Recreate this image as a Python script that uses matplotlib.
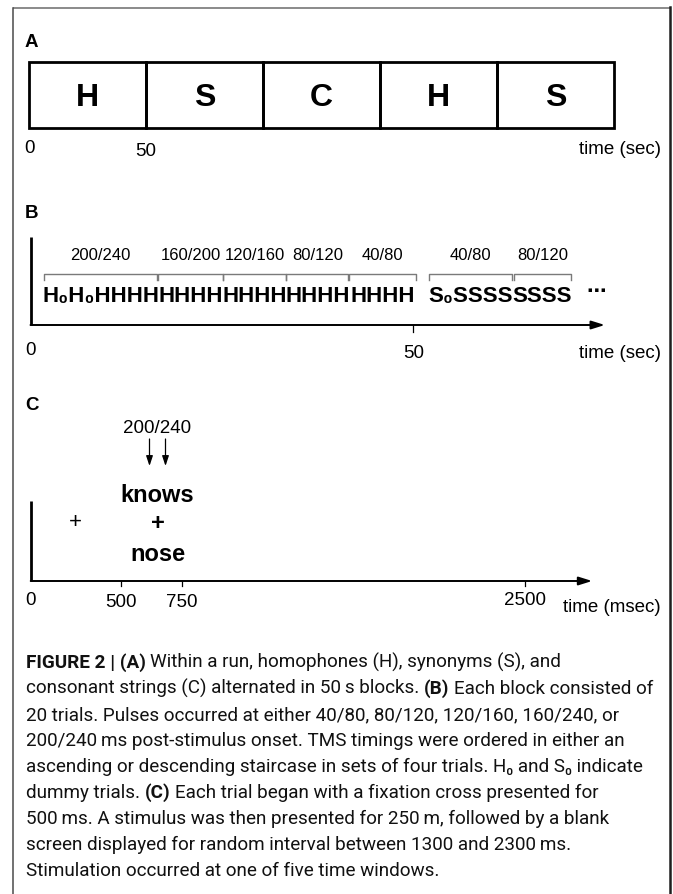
import numpy as np
import matplotlib
matplotlib.use('Agg')
import matplotlib.pyplot as plt
import matplotlib.transforms as mtransforms
from matplotlib.patches import Rectangle
from matplotlib import font_manager as fm

W, H = 673, 895

# ---------------- data ----------------
# Panel A: block sequence within a run (50 s blocks)
block_labels = ['H', 'S', 'C', 'H', 'S']
block_len_s = 50
a_ticks = [0, 50]
a_tick_labels = ['0', '50']

# Panel B: trials within blocks, grouped in sets with TMS timing labels
b_timing_labels_H = ['200/240', '160/200', '120/160', '80/120', '40/80']
b_groups_H = ['H\u2080H\u2080HHHH', 'HHHH', 'HHHH', 'HHHH', 'HHHH']
b_spans_H = [(1.8, 16.5), (16.7, 25.1), (25.2, 33.3), (33.4, 41.5), (41.6, 50.3)]
b_timing_labels_S = ['40/80', '80/120']
b_groups_S = ['S\u2080SSSS', 'SSSS']
b_spans_S = [(52.1, 62.9), (63.1, 70.6)]
b_ticks = [0, 50]
b_tick_labels = ['0', '50']
b_axis_end_s = 75

# Panel C: single trial timeline (msec)
c_ticks = [0, 500, 750, 2500]
c_tick_labels = ['0', '500', '750', '2500']
fixation_ms = (0, 500)
stimulus_ms = (500, 750)
pulse_label = '200/240'
stim_words = ['knows', '+', 'nose']
c_axis_end_ms = 2840

caption_lines = [
    [('FIGURE 2 | (A)', True), ('Within a run, homophones (H), synonyms (S), and', False)],
    [('consonant strings (C) alternated in 50\u2009s blocks.', False), ('(B)', True),
     ('Each block consisted of', False)],
    [('20 trials. Pulses occurred at either 40/80, 80/120, 120/160, 160/240, or', False)],
    [('200/240\u2009ms post-stimulus onset. TMS timings were ordered in either an', False)],
    [('ascending or descending staircase in sets of four trials. H\u2080 and S\u2080 indicate', False)],
    [('dummy trials.', False), ('(C)', True), ('Each trial began with a fixation cross presented for', False)],
    [('500\u2009ms. A stimulus was then presented for 250\u2009m, followed by a blank', False)],
    [('screen displayed for random interval between 1300 and 2300\u2009ms.', False)],
    [('Stimulation occurred at one of five time windows.', False)],
]

# ---------------- setup ----------------
names = {f.name for f in fm.fontManager.ttflist}
SANS = ['Liberation Sans', 'DejaVu Sans']
if 'Liberation Sans Narrow' in names:
    CAPF = ['Liberation Sans Narrow'] + SANS
elif 'Roboto' in names:
    CAPF = ['Roboto'] + SANS
else:
    CAPF = SANS
plt.rcParams['font.family'] = SANS

fig = plt.figure(figsize=(W / 100, H / 100), dpi=100)
fig.patch.set_facecolor('white')


def layer(x0_px=0.0, px_per_unit=1.0):
    ax = fig.add_axes([0, 0, 1, 1], facecolor='none')
    ax.set_ylim(H, 0)
    ax.set_xlim(-x0_px / px_per_unit, (W - x0_px) / px_per_unit)
    ax.axis('off')
    return ax


ax0 = layer()  # page layer (pixel units)

# outer frame
ax0.plot([13, 669.5], [9, 9], color='#8a8a8a', lw=1.4, solid_capstyle='butt')
ax0.plot([13, 13], [9, H + 5], color='#4a4a4a', lw=1.1)
ax0.plot([670, 670], [8.3, H + 5], color='#1e1e1e', lw=1.8)

# panel letters
for lab, yb in [('A', 47), ('B', 218), ('C', 409.5)]:
    ax0.text(25, yb, lab, fontsize=13.5, fontweight='bold', va='baseline', ha='left')

# ---------------- Panel A ----------------
axA = layer(29.3, (613.7 - 29.3) / 250)
for i, lab in enumerate(block_labels):
    axA.add_patch(Rectangle((i * block_len_s, 63), block_len_s, 66, fill=False,
                            ec='black', lw=2.0, joinstyle='miter'))
    axA.text(i * block_len_s + block_len_s / 2, 106, lab, fontsize=23, fontweight='bold',
             ha='center', va='baseline')
for v, lab, yb in zip(a_ticks, a_tick_labels, [153, 156]):
    axA.text(v, yb, lab, fontsize=13.5, ha='center', va='baseline')
ax0.text(661, 154, 'time (sec)', fontsize=13.5, ha='right', va='baseline')

# ---------------- Panel B ----------------
axB = layer(30.5, (413.4 - 30.5) / 50)
axB.plot([0, 0], [238, 326], color='black', lw=2.0, solid_capstyle='butt')
axB.annotate('', xy=(b_axis_end_s, 326), xytext=(0, 326),
             arrowprops=dict(arrowstyle='-|>,head_length=0.8,head_width=0.25',
                             mutation_scale=10, lw=1.4, color='black',
                             shrinkA=0, shrinkB=0))
axB.plot([50, 50], [326, 333], color='black', lw=0.9)
for v, lab, yb in zip(b_ticks, b_tick_labels, [355, 358]):
    axB.text(v, yb, lab, fontsize=13.5, ha='center', va='baseline')
ax0.text(661, 358, 'time (sec)', fontsize=13.5, ha='right', va='baseline')


def brackets(ax, spans, labels, groups):
    for (a, b), lab, g in zip(spans, labels, groups):
        ax.plot([a, a, b, b], [281, 275, 275, 281], color='#7a7a7a', lw=1.0)
        c = 0.5 * (a + b)
        ax.text(c, 260, lab, fontsize=12, ha='center', va='baseline')
        ax.text(c, 302, g, fontsize=16, fontweight='bold', ha='center', va='baseline',
                family=SANS)


brackets(axB, b_spans_H, b_timing_labels_H, b_groups_H)
brackets(axB, b_spans_S, b_timing_labels_S, b_groups_S)
axB.text(b_spans_S[-1][1] + 3.3, 291, '\u22ef', fontsize=14, fontweight='bold',
         ha='center', va='center', family=['DejaVu Sans'])

# ---------------- Panel C ----------------
anc_ms = np.array([-2000.0, 0, 500, 750, 2500, 6000])
anc_px = np.array([30.7 - 2000 * 0.1806, 30.7, 121.0, 182.0, 525.4, 525.4 + 3500 * 0.1963])


def fwd(x):
    return np.interp(x, anc_ms, anc_px)


def inv(p):
    return np.interp(p, anc_px, anc_ms)


axC = fig.add_axes([0, 0, 1, 1], facecolor='none')
axC.set_xscale('function', functions=(fwd, inv))
axC.set_xlim(inv(0), inv(W))
axC.set_ylim(H, 0)
axC.axis('off')

axC.plot([0, 0], [502, 582], color='black', lw=2.0, solid_capstyle='butt')
axC.annotate('', xy=(c_axis_end_ms, 582), xytext=(0, 582),
             arrowprops=dict(arrowstyle='-|>,head_length=0.8,head_width=0.25',
                             mutation_scale=10, lw=1.4, color='black',
                             shrinkA=0, shrinkB=0))
for v in c_ticks[1:]:
    axC.plot([v, v], [582, 587], color='black', lw=0.9)
for v, lab, yb in zip(c_ticks, c_tick_labels, [605, 607, 607, 605]):
    axC.text(v, yb, lab, fontsize=13.5, ha='center', va='baseline')
ax0.text(661, 612, 'time (msec)', fontsize=13.5, ha='right', va='baseline')

# fixation cross
axC.text(np.mean(fixation_ms), 523, '+', fontsize=16, ha='center', va='center')

# stimulus group (schematic, shifted slightly right of window centre)
stim_c = np.mean(stimulus_ms)
tr = axC.transData + mtransforms.Affine2D().translate(6, 0)
axC.text(stim_c, 502, stim_words[0], fontsize=17, fontweight='bold', ha='center',
         va='baseline', transform=tr)
axC.text(stim_c, 523, stim_words[1], fontsize=17, fontweight='bold', ha='center',
         va='center', transform=tr)
axC.text(stim_c, 561, stim_words[2], fontsize=17, fontweight='bold', ha='center',
         va='baseline', transform=tr)
axC.text(stim_c, 433, pulse_label, fontsize=13.5, ha='center', va='baseline', transform=tr)
for dx in (-8, 8):
    trd = axC.transData + mtransforms.Affine2D().translate(6 + dx, 0)
    axC.annotate('', xy=(stim_c, 467), xytext=(stim_c, 440), xycoords=trd, textcoords=trd,
                 arrowprops=dict(arrowstyle='-|>,head_length=0.6,head_width=0.2',
                                 mutation_scale=10, lw=0.9, color='black',
                                 shrinkA=0, shrinkB=0))

# ---------------- caption ----------------
renderer = fig.canvas.get_renderer()


def text_w(s, size, bold):
    t = ax0.text(0, 0, s, fontsize=size, fontweight='bold' if bold else 'normal', family=CAPF)
    w = t.get_window_extent(renderer=renderer).width
    t.remove()
    return w


def draw_line(x, y, runs, size, draw=True):
    sp = text_w('x x', size, False) - text_w('xx', size, False)
    for k, (s, bold) in enumerate(runs):
        if k > 0:
            x += sp
        if draw:
            ax0.text(x, y, s, fontsize=size, fontweight='bold' if bold else 'normal',
                     family=CAPF, ha='left', va='baseline', color='#111111')
        x += text_w(s, size, bold)
    return x


s0 = 14.0
w0 = draw_line(26, 0, caption_lines[1], s0, draw=False) - 26
cap_size = s0 * 633 / w0
for i, runs in enumerate(caption_lines):
    draw_line(26, 668 + 26 * i, runs, cap_size)

fig.savefig('out.png', dpi=100, facecolor='white')
